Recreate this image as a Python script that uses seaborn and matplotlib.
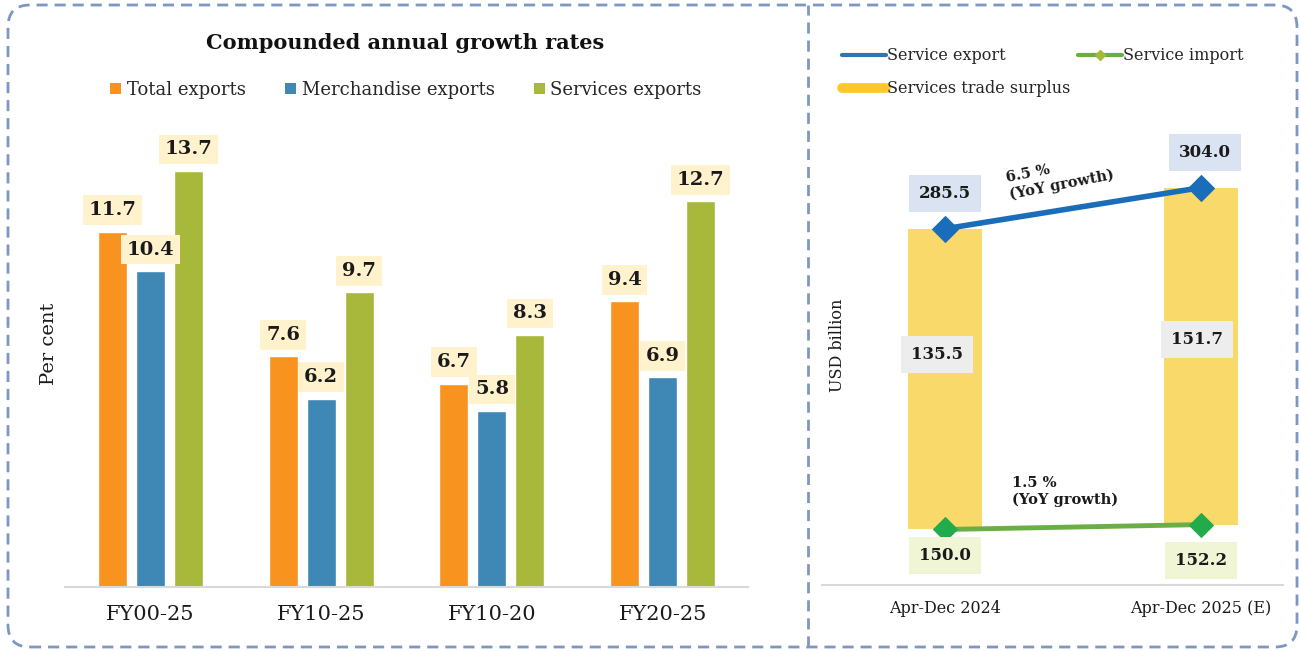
import matplotlib
matplotlib.use("Agg")
import matplotlib.pyplot as plt
import matplotlib.transforms as mtransforms
from matplotlib.lines import Line2D
from matplotlib.patches import FancyBboxPatch, Patch
import pandas as pd
import seaborn as sns

sns.set_theme(style="white")
plt.rcParams["font.family"] = ["DejaVu Serif", "DejaVu Sans"]

# left panel data
periods = ["FY00-25", "FY10-25", "FY10-20", "FY20-25"]
series_names = ["Total exports", "Merchandise exports", "Services exports"]
total_exports = [11.7, 7.6, 6.7, 9.4]
merch_exports = [10.4, 6.2, 5.8, 6.9]
services_exports = [13.7, 9.7, 8.3, 12.7]

# right panel data
quarters = ["Apr-Dec 2024", "Apr-Dec 2025 (E)"]
service_export = [285.5, 304.0]
service_import = [150.0, 152.2]
trade_surplus = [135.5, 151.7]
export_growth = "6.5 %\n(YoY growth)"
import_growth = "1.5 %\n(YoY growth)"

BAR_COLORS = ["#F7931E", "#3F87B4", "#A8B83A"]
BORDER = "#7D97C4"

fig = plt.figure(figsize=(13, 6.51), dpi=100)

# ---- left: CAGR grouped bars ----
df = pd.DataFrame({
    "period": periods * 3,
    "series": [s for s in series_names for _ in periods],
    "value": total_exports + merch_exports + services_exports,
})

ax1 = fig.add_axes([0.05, 0.0983, 0.5254, 0.7465])
sns.barplot(
    data=df, x="period", y="value", hue="series",
    hue_order=series_names, palette=BAR_COLORS, saturation=1,
    width=0.667, gap=0.235, ax=ax1, legend=False,
)
ax1.set_xlim(-0.5, 3.5)
ax1.set_ylim(0, 16)

for container in ax1.containers:
    ax1.bar_label(
        container, fmt="%.1f", padding=9,
        fontsize=14, fontweight="bold", color="#1a1a1a",
        bbox=dict(boxstyle="square,pad=0.3", fc="#FFF2CC", ec="none"),
    )

sns.despine(ax=ax1, left=True)
ax1.spines["bottom"].set_color("#D9D9D9")
ax1.spines["bottom"].set_linewidth(1.5)
ax1.set_yticks([])
ax1.tick_params(axis="x", length=0, pad=13, labelsize=15, colors="#1a1a1a")
ax1.set_xlabel("")
ax1.set_ylabel("Per cent", fontsize=14, labelpad=5, color="#1a1a1a")

fig.text(405 / 1300, 1 - 43 / 651, "Compounded annual growth rates",
         ha="center", va="center", fontsize=15, fontweight="bold", color="#111111")

handles = [Patch(facecolor=c, edgecolor="none") for c in BAR_COLORS]
fig.legend(
    handles, series_names, loc="center", ncol=3,
    bbox_to_anchor=(406 / 1300, 1 - 90 / 651), frameon=False,
    fontsize=13, handlelength=0.6, handleheight=0.6,
    handletextpad=0.3, columnspacing=2.2,
)

# ---- right: services trade ----
ax2 = fig.add_axes([0.6323, 0.1014, 0.3546, 0.682])
xpos = [0, 1]
ax2.bar(xpos, trade_surplus, bottom=service_import, width=0.29,
        color="#FAD96B", edgecolor="none", zorder=1)
sns.lineplot(x=xpos, y=service_export, ax=ax2, color="#1A6DB8", lw=4,
             marker="D", markersize=13, markeredgecolor="#1A6DB8", zorder=3)
sns.lineplot(x=xpos, y=service_import, ax=ax2, color="#6AAF46", lw=3.5,
             marker="D", markersize=12, markerfacecolor="#22AB4B",
             markeredgecolor="#22AB4B", zorder=3)
ax2.set_xlim(-0.482, 1.32)
ax2.set_ylim(125, 325)

label_kw = dict(textcoords="offset points", ha="center", va="center",
                fontsize=12, fontweight="bold", color="#1a1a1a")
export_offsets = [(0, 25), (3, 25)]
import_offsets = [(0, -19), (0, -26)]
surplus_offsets = [(-6, 18), (-3, 12)]
for i in xpos:
    ax2.annotate(f"{service_export[i]:.1f}", (i, service_export[i]),
                 xytext=export_offsets[i],
                 bbox=dict(boxstyle="square,pad=0.6", fc="#DAE3F1", ec="none"),
                 **label_kw)
    ax2.annotate(f"{service_import[i]:.1f}", (i, service_import[i]),
                 xytext=import_offsets[i],
                 bbox=dict(boxstyle="square,pad=0.6", fc="#EFF5D5", ec="none"),
                 **label_kw)
    mid = service_import[i] + trade_surplus[i] / 2
    ax2.annotate(f"{trade_surplus[i]:.1f}", (i, mid),
                 xytext=surplus_offsets[i],
                 bbox=dict(boxstyle="square,pad=0.6", fc="#EDEDED", ec="none"),
                 **label_kw)

ax2.text(0.45, 309, export_growth, rotation=11, ha="center", va="center",
         multialignment="left", fontsize=10.5, fontweight="bold",
         color="#1a1a1a", rotation_mode="anchor")
ax2.text(0.47, 167, import_growth, ha="center", va="center",
         multialignment="left", fontsize=10.5, fontweight="bold", color="#1a1a1a")

sns.despine(ax=ax2, left=True)
ax2.spines["bottom"].set_color("#D9D9D9")
ax2.spines["bottom"].set_linewidth(1.5)
ax2.set_yticks([])
ax2.set_xticks(xpos)
ax2.set_xticklabels(quarters)
ax2.tick_params(axis="x", length=0, pad=11, labelsize=11.5, colors="#1a1a1a")

fig.text(838 / 1300, 1 - 345 / 651, "USD billion", rotation=90,
         ha="center", va="center", fontsize=11.5, color="#1a1a1a")

leg_handles = [
    Line2D([], [], color="#2E75B6", lw=3, solid_capstyle="round"),
    Line2D([], [], color="#FFC72C", lw=7, solid_capstyle="round"),
    Line2D([], [], color="#6AAF46", lw=3, marker="D", markersize=5,
           markerfacecolor="#A8B83A", markeredgecolor="#A8B83A"),
]
leg_labels = ["Service export", "Services trade surplus", "Service import"]
fig.legend(
    leg_handles, leg_labels, loc="upper left", ncol=2,
    bbox_to_anchor=(828 / 1300, 1 - 33 / 651), frameon=False,
    fontsize=11.5, handlelength=2.7, handletextpad=0.1,
    labelspacing=1.0, columnspacing=0.5,
)

# ---- dashed panel borders ----
ident = mtransforms.IdentityTransform()
outer = FancyBboxPatch(
    (8, 4), 1289, 642, boxstyle="round,pad=0,rounding_size=22",
    transform=ident, fill=False, ec=BORDER, lw=2, ls=(0, (4, 2.5)),
)
fig.patches.append(outer)
divider = Line2D([808, 808], [4, 646], transform=ident, color=BORDER,
                 lw=2, ls=(0, (4, 2.5)))
fig.lines.append(divider)

fig.savefig("out.png", dpi=100, facecolor="white")
